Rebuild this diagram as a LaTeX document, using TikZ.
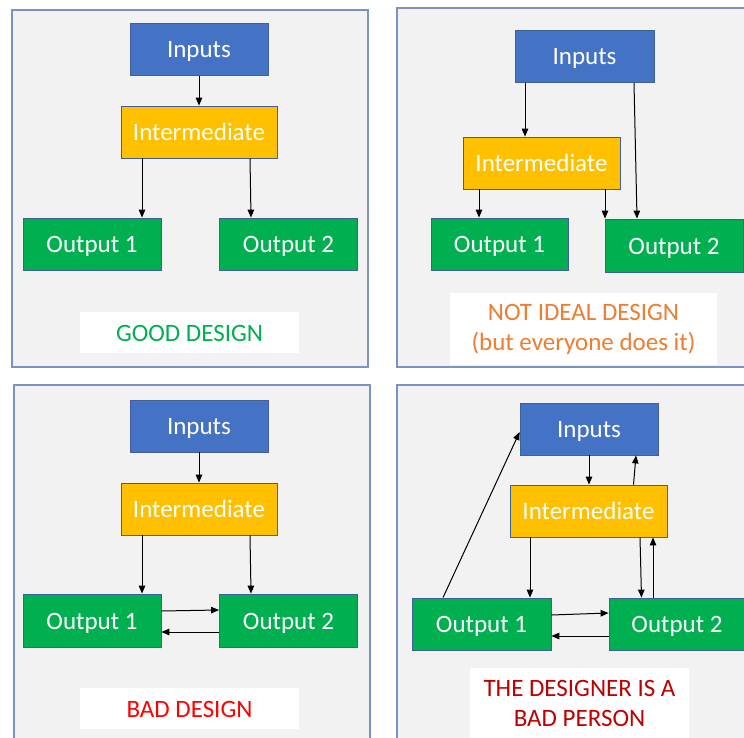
\documentclass[tikz,border=0pt]{standalone}
\usepackage{fontspec}
\setmainfont{Carlito}
\usetikzlibrary{arrows.meta,calc}
\definecolor{inpblue}{HTML}{4472C4}
\definecolor{boxedge}{HTML}{41609A}
\definecolor{intyellow}{HTML}{FFC000}
\definecolor{outgreen}{HTML}{00B050}
\definecolor{panelfill}{HTML}{F2F2F2}
\definecolor{paneledge}{HTML}{7A93C3}
\definecolor{goodgreen}{HTML}{00B050}
\definecolor{okorange}{HTML}{ED7D31}
\definecolor{badred}{HTML}{FF0000}
\definecolor{worstred}{HTML}{C00000}
\tikzset{
  panel/.style={fill=panelfill,draw=paneledge,line width=1.3pt},
  blk/.style={draw=boxedge,line width=0.8pt,text=white,font=\fontsize{25}{30}\selectfont,inner sep=0pt,minimum height=52pt,text height=20.5pt,text depth=3.5pt},
  inbox/.style={blk,fill=inpblue,minimum width=138pt},
  midbox/.style={blk,fill=intyellow,minimum width=156pt},
  outbox/.style={blk,fill=outgreen,minimum width=138pt},
  lbl/.style={fill=white,inner sep=0pt,align=center,font=\fontsize{25}{30}\selectfont},
  onelbl/.style={lbl,text height=20.5pt,text depth=3.5pt},
  arr/.style={-{Triangle[length=8pt,width=6.5pt]},line width=1pt,black},
}
\begin{document}
\begin{tikzpicture}[x=1pt,y=-1pt]
\useasboundingbox (0,0) rectangle (744,738);
\clip (0,0) rectangle (744,738);
\fill[white] (0,0) rectangle (744,738);
% panels
\draw[panel] (12,10) rectangle (368,367);
\draw[panel] (397,8) rectangle (760,367);
\draw[panel] (14,385) rectangle (370,760);
\draw[panel] (397,385) rectangle (760,760);

% ---------- Panel 1: GOOD DESIGN
\node[inbox] (a1) at (199,49.5) {Inputs};
\node[midbox] (a2) at (199,132) {Intermediate};
\node[outbox] (a3) at (92,244) {Output 1};
\node[outbox] (a4) at (288.5,244) {Output 2};
\node[onelbl,minimum width=219pt,minimum height=41pt,text=goodgreen] (a5) at (189.5,332.5) {GOOD DESIGN};
\draw[arr] (a1.south) -- (a2.north);
\draw[arr] ([xshift=-57pt]a2.south) -- ([xshift=-57pt]a2.south |- a3.north);
\draw[arr] ([xshift=51pt]a2.south) -- ([xshift=52pt]a2.south |- a4.north);

% ---------- Panel 2: NOT IDEAL DESIGN
\node[inbox,minimum width=139pt] (b1) at (584.5,56.5) {Inputs};
\node[midbox,minimum width=157pt] (b2) at (541.5,163) {Intermediate};
\node[outbox,minimum width=137pt] (b3) at (499.5,244) {Output 1};
\node[outbox,minimum width=138pt,minimum height=53pt] (b4) at (674,245.5) {Output 2};
\node[lbl,minimum width=267pt,minimum height=72pt,text=okorange] (b5) at (583.5,329) {NOT IDEAL DESIGN\\(but everyone does it)};
\draw[arr] ([xshift=-59.5pt]b1.south) -- ([xshift=-59.5pt]b1.south |- b2.north);
\draw[arr] ([xshift=49.5pt]b1.south) -- ([xshift=52.5pt]b1.south |- b4.north);
\draw[arr] ([xshift=-62.5pt]b2.south) -- ([xshift=-62.5pt]b2.south |- b3.north);
\draw[arr] ([xshift=63.5pt]b2.south) -- ([xshift=63.5pt]b2.south |- b4.north);

% ---------- Panel 3: BAD DESIGN
\node[inbox] (c1) at (199,426) {Inputs};
\node[midbox] (c2) at (199,509) {Intermediate};
\node[outbox,minimum height=53pt] (c3) at (92,620.5) {Output 1};
\node[outbox,minimum height=53pt] (c4) at (288.5,620.5) {Output 2};
\node[onelbl,minimum width=219pt,minimum height=41pt,text=badred] (c5) at (189.5,708.5) {BAD DESIGN};
\draw[arr] (c1.south) -- (c2.north);
\draw[arr] ([xshift=-57pt]c2.south) -- ([xshift=-57pt]c2.south |- c3.north);
\draw[arr] ([xshift=51pt]c2.south) -- ([xshift=52pt]c2.south |- c4.north);
\draw[arr] ([yshift=9.5pt]c3.east) -- ([yshift=10.5pt]c4.west);
\draw[arr] ([yshift=-11.5pt]c4.west) -- ([yshift=-11.5pt]c3.east);

% ---------- Panel 4: THE DESIGNER IS A BAD PERSON
\node[inbox] (d1) at (589,429) {Inputs};
\node[midbox,minimum width=157pt] (d2) at (588.5,511) {Intermediate};
\node[outbox,minimum width=139pt] (d3) at (481.5,624) {Output 1};
\node[outbox,minimum width=136pt] (d4) at (677,624) {Output 2};
\node[lbl,minimum width=219pt,minimum height=71pt,text=worstred] (d5) at (579.5,703) {THE DESIGNER IS A\\BAD PERSON};
\draw[arr] ([xshift=-38.5pt]d3.north) -- ([yshift=-3pt]d1.west);
\draw[arr] (d1.south) -- (d1.south |- d2.north);
\draw[arr] ([xshift=45pt]d2.north) -- ([xshift=47pt]d1.south);
\draw[arr] ([xshift=-58.5pt]d2.south) -- ([xshift=-58.5pt]d2.south |- d3.north);
\draw[arr] ([xshift=51.5pt]d2.south) -- ([xshift=53pt]d2.south |- d4.north);
\draw[arr] ([xshift=-24pt]d4.north) -- ([xshift=-24pt]d4.north |- d2.south);
\draw[arr] ([yshift=9pt]d3.east) -- ([yshift=11pt]d4.west);
\draw[arr] ([yshift=-12pt]d4.west) -- ([yshift=-12pt]d3.east);
\end{tikzpicture}
\end{document}
